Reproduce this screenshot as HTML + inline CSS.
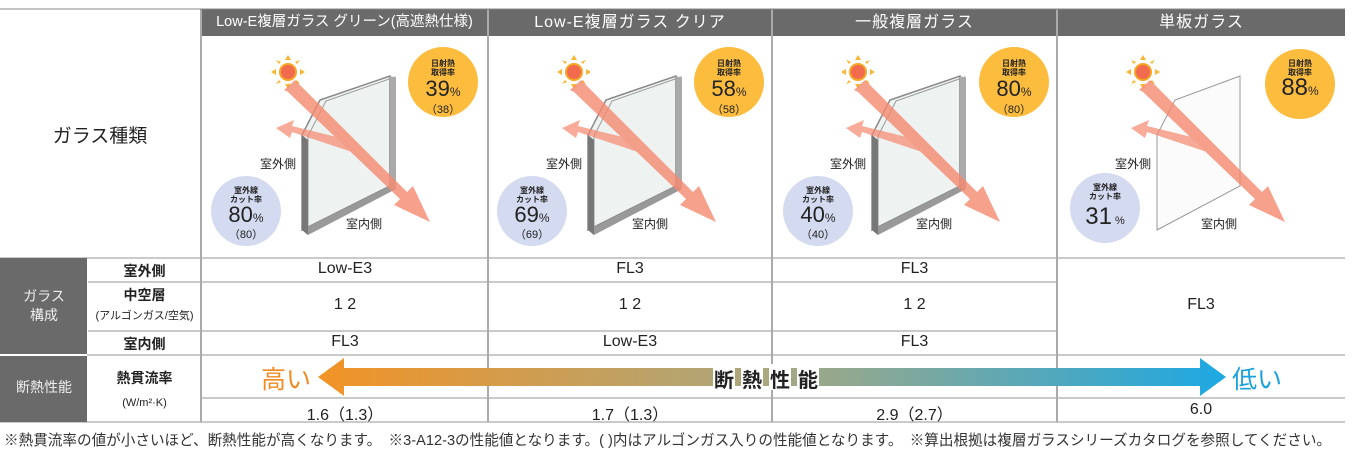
<!DOCTYPE html>
<html><head><meta charset="utf-8"><style>
body{margin:0;width:1363px;height:463px;background:#fff;overflow:hidden;font-family:"Liberation Sans","Noto Sans CJK JP",sans-serif;color:#222}
.a{position:absolute}
.hd{position:absolute;top:9px;height:27px;background:#6a6a6a;color:#fff;font-size:16px;line-height:27px;text-align:center;letter-spacing:1px}
.c{position:absolute;text-align:center;font-size:16px;color:#222}
</style></head><body>
<div class="hd" style="left:202px;width:285px;font-size:14.5px;letter-spacing:0">Low-E複層ガラス グリーン(高遮熱仕様)</div>
<div class="hd" style="left:489px;width:282px">Low-E複層ガラス クリア</div>
<div class="hd" style="left:773px;width:283px">一般複層ガラス</div>
<div class="hd" style="left:1058px;width:287px">単板ガラス</div>
<div class="c" style="left:0;width:200px;top:121px;font-size:19px">ガラス種類</div>

<svg class="a" style="left:0;top:0" width="1363" height="463">
<defs>
<linearGradient id="g" x1="0" x2="1"><stop offset="0" stop-color="#f39326"/><stop offset="0.5" stop-color="#a8a880"/><stop offset="1" stop-color="#1ca8e3"/></linearGradient>
<g id="sun"><circle r="9" fill="#f5a623"/><circle r="7" fill="#f26b4f"/><g fill="#f7b733"><path d="M0,-17 l3,5 h-6z"/><path d="M0,17 l3,-5 h-6z"/><path d="M-17,0 l5,3 v-6z"/><path d="M17,0 l-5,3 v-6z"/><path d="M-12,-12 l5,2 -2,2z"/><path d="M12,-12 l-5,2 2,2z"/><path d="M-12,12 l5,-2 -2,-2z"/><path d="M12,12 l-5,-2 2,-2z"/></g></g>
<g id="glass">
<path d="M100,135 L118,100 L188,76 L188,186 L100,230Z" fill="#eef3f2" stroke="#888" stroke-width="1.5"/>
<path d="M106,136 L124,101 L193,77 L193,188 L106,232Z" fill="none" stroke="#999" stroke-width="1"/>
<path d="M188,76 L194,78 L194,188 L188,186Z" fill="#aaa"/>
<path d="M100,230 L188,186 L194,189 L106,235Z" fill="#999"/>
<path d="M100,230 L106,235 L106,140 L100,135Z" fill="#777"/>
</g>
<g id="arr" opacity="0.8">
<path d="M82,90 L93,80 L205,192 L211,186 L228,222 L192,205 L198,199 L86,92Z" fill="#f58a70"/>
<path d="M150,152 L155,142 L90,126 L92,120 L74,128 L88,138 L90,132Z" fill="#f58a70" opacity="0.9"/>
</g>
</defs>
<line x1="0" y1="9" x2="1345" y2="9" stroke="#888"/>
<g stroke="#555" stroke-width="1">
<line x1="201" y1="9" x2="201" y2="422"/><line x1="488" y1="9" x2="488" y2="422"/><line x1="772" y1="9" x2="772" y2="422"/><line x1="1057" y1="9" x2="1057" y2="422"/>
</g>
<g stroke="#aaa" stroke-width="1.2">
<line x1="0" y1="258" x2="1345" y2="258"/><line x1="88" y1="282" x2="1057" y2="282"/><line x1="88" y1="331" x2="1057" y2="331"/><line x1="0" y1="355" x2="1345" y2="355"/><line x1="201" y1="398" x2="1345" y2="398"/><line x1="0" y1="422" x2="1345" y2="422"/>
</g>
<rect x="0" y="258" width="87" height="164" fill="#6a6a6a"/>
<line x1="0" y1="355" x2="87" y2="355" stroke="#fff" stroke-width="2"/>
<g transform="translate(202,0)"><use href="#sun" x="86" y="72"/><use href="#glass"/><use href="#arr"/></g>
<g transform="translate(488,0)"><use href="#sun" x="86" y="72"/><use href="#glass"/><use href="#arr"/></g>
<g transform="translate(772,0)"><use href="#sun" x="86" y="72"/><use href="#glass"/><use href="#arr"/></g>
<g transform="translate(1057,0)"><use href="#sun" x="86" y="72"/>
<path d="M100,135 L118,100 L183,76 L183,186 L100,230Z" fill="#fbfbfb" stroke="#999" stroke-width="1"/><use href="#arr"/></g>
<g fill="#fcbd3f"><circle cx="443" cy="82" r="35"/><circle cx="729" cy="82" r="35"/><circle cx="1014" cy="82" r="35"/><circle cx="1300" cy="84" r="35"/></g>
<g fill="#d4daf0"><circle cx="246" cy="211" r="35"/><circle cx="532" cy="211" r="35"/><circle cx="818" cy="211" r="35"/><circle cx="1105" cy="208" r="35"/></g>
<path d="M344,368 L1200,368 L1200,358 L1226,377 L1200,396 L1200,386 L344,386 L344,396 L318,377 L344,358Z" fill="url(#g)"/>
<g fill="#fff"><rect x="713" y="364" width="22" height="26"/><rect x="741" y="364" width="22" height="26"/><rect x="769" y="364" width="22" height="26"/><rect x="797" y="364" width="22" height="26"/></g>
</svg>

<div class="c" style="left:408px;top:59px;width:70px;font-size:8px;line-height:9px;font-weight:bold">日射熱<br>取得率</div>
<div class="c" style="left:694px;top:59px;width:70px;font-size:8px;line-height:9px;font-weight:bold">日射熱<br>取得率</div>
<div class="c" style="left:979px;top:59px;width:70px;font-size:8px;line-height:9px;font-weight:bold">日射熱<br>取得率</div>
<div class="c" style="left:1265px;top:59px;width:70px;font-size:8px;line-height:9px;font-weight:bold">日射熱<br>取得率</div>
<div class="c" style="left:211px;top:186px;width:70px;font-size:8px;line-height:9px;font-weight:bold">室外線<br>カット率</div>
<div class="c" style="left:497px;top:186px;width:70px;font-size:8px;line-height:9px;font-weight:bold">室外線<br>カット率</div>
<div class="c" style="left:783px;top:186px;width:70px;font-size:8px;line-height:9px;font-weight:bold">室外線<br>カット率</div>
<div class="c" style="left:1070px;top:183px;width:70px;font-size:8px;line-height:9px;font-weight:bold">室外線<br>カット率</div>
<div class="c" style="left:408px;top:76px;width:70px;font-size:22px">39<small style="font-size:12px">%</small></div>
<div class="c" style="left:408px;top:101px;width:70px;font-size:11px">（38）</div>
<div class="c" style="left:694px;top:76px;width:70px;font-size:22px">58<small style="font-size:12px">%</small></div>
<div class="c" style="left:694px;top:101px;width:70px;font-size:11px">（58）</div>
<div class="c" style="left:979px;top:76px;width:70px;font-size:22px">80<small style="font-size:12px">%</small></div>
<div class="c" style="left:979px;top:101px;width:70px;font-size:11px">（80）</div>
<div class="c" style="left:1265px;top:74px;width:70px;font-size:24px">88<small style="font-size:12px">%</small></div>
<div class="c" style="left:211px;top:202px;width:70px;font-size:22px">80<small style="font-size:12px">%</small></div>
<div class="c" style="left:211px;top:226px;width:70px;font-size:11px">（80）</div>
<div class="c" style="left:497px;top:202px;width:70px;font-size:22px">69<small style="font-size:12px">%</small></div>
<div class="c" style="left:497px;top:226px;width:70px;font-size:11px">（69）</div>
<div class="c" style="left:783px;top:202px;width:70px;font-size:22px">40<small style="font-size:12px">%</small></div>
<div class="c" style="left:783px;top:226px;width:70px;font-size:11px">（40）</div>
<div class="c" style="left:1070px;top:203px;width:70px;font-size:24px">31<small style="font-size:11px"> %</small></div>
<div class="c" style="left:253px;top:155px;width:50px;font-size:12px">室外側</div>
<div class="c" style="left:339px;top:215px;width:50px;font-size:12px">室内側</div>
<div class="c" style="left:539px;top:155px;width:50px;font-size:12px">室外側</div>
<div class="c" style="left:625px;top:215px;width:50px;font-size:12px">室内側</div>
<div class="c" style="left:823px;top:155px;width:50px;font-size:12px">室外側</div>
<div class="c" style="left:909px;top:215px;width:50px;font-size:12px">室内側</div>
<div class="c" style="left:1108px;top:155px;width:50px;font-size:12px">室外側</div>
<div class="c" style="left:1194px;top:215px;width:50px;font-size:12px">室内側</div>
<div class="c" style="left:0;top:287px;width:88px;color:#eee;font-size:14px;line-height:19px">ガラス<br>構成</div>
<div class="c" style="left:0;top:377px;width:88px;color:#eee;font-size:14px">断熱性能</div>
<div class="c" style="left:88px;top:261px;width:113px;font-size:14px;font-weight:bold">室外側</div>
<div class="c" style="left:88px;top:285px;width:113px;font-size:14px;font-weight:bold">中空層</div>
<div class="c" style="left:88px;top:307px;width:113px;font-size:11px">(アルゴンガス/空気)</div>
<div class="c" style="left:88px;top:334px;width:113px;font-size:14px;font-weight:bold">室内側</div>
<div class="c" style="left:88px;top:368px;width:113px;font-size:14px;font-weight:bold">熱貫流率</div>
<div class="c" style="left:88px;top:397px;width:113px;font-size:11px">(W/m²·K)</div>
<div class="c" style="left:202px;top:260px;width:286px">Low-E3</div>
<div class="c" style="left:488px;top:260px;width:284px">FL3</div>
<div class="c" style="left:772px;top:260px;width:285px">FL3</div>
<div class="c" style="left:202px;top:296px;width:286px">1 2</div>
<div class="c" style="left:488px;top:296px;width:284px">1 2</div>
<div class="c" style="left:772px;top:296px;width:285px">1 2</div>
<div class="c" style="left:202px;top:333px;width:286px">FL3</div>
<div class="c" style="left:488px;top:333px;width:284px">Low-E3</div>
<div class="c" style="left:772px;top:333px;width:285px">FL3</div>
<div class="c" style="left:1057px;top:296px;width:288px">FL3</div>
<div class="c" style="left:202px;top:401px;width:286px">1.6（1.3）</div>
<div class="c" style="left:488px;top:401px;width:284px">1.7（1.3）</div>
<div class="c" style="left:772px;top:401px;width:285px">2.9（2.7）</div>
<div class="c" style="left:1057px;top:401px;width:288px">6.0</div>
<div class="a" style="left:261px;top:360px;font-size:25px;color:#f08a22">高い</div>
<div class="a" style="left:1232px;top:360px;font-size:25px;color:#1aa0dc">低い</div>
<div class="a" style="left:714px;top:364px;font-size:20px;font-weight:bold;letter-spacing:8px;color:#222">断熱性能</div>
<div class="a" style="left:4px;top:429px;font-size:14.6px;color:#333;white-space:nowrap">※熱貫流率の値が小さいほど、断熱性能が高くなります。　※3-A12-3の性能値となります。( )内はアルゴンガス入りの性能値となります。　※算出根拠は複層ガラスシリーズカタログを参照してください。</div>
</body></html>
